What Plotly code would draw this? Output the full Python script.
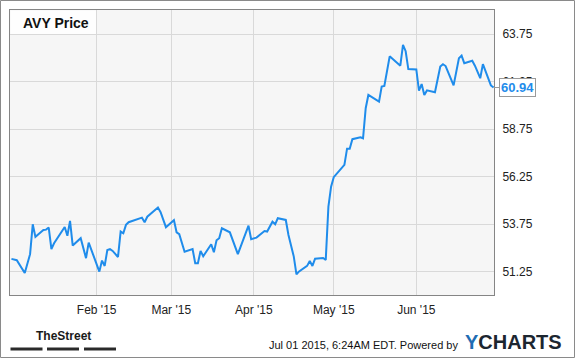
import plotly.graph_objects as go

# ---------------- data ----------------
dates = [
    "2014-12-31", "2015-01-02", "2015-01-05", "2015-01-07", "2015-01-08", "2015-01-09",
    "2015-01-11", "2015-01-12", "2015-01-13", "2015-01-14", "2015-01-15", "2015-01-16",
    "2015-01-20", "2015-01-21", "2015-01-22", "2015-01-23", "2015-01-26", "2015-01-28",
    "2015-01-29", "2015-02-02", "2015-02-03", "2015-02-04", "2015-02-05", "2015-02-06",
    "2015-02-07", "2015-02-09", "2015-02-10", "2015-02-11", "2015-02-12", "2015-02-13",
    "2015-02-18", "2015-02-19", "2015-02-20", "2015-02-24", "2015-02-25", "2015-02-27",
    "2015-03-02", "2015-03-03", "2015-03-04", "2015-03-06", "2015-03-09", "2015-03-10",
    "2015-03-11", "2015-03-12", "2015-03-13", "2015-03-16", "2015-03-17", "2015-03-18",
    "2015-03-19", "2015-03-20", "2015-03-23", "2015-03-25", "2015-03-26", "2015-03-30",
    "2015-03-31", "2015-04-02", "2015-04-05", "2015-04-06", "2015-04-08", "2015-04-09",
    "2015-04-10", "2015-04-13", "2015-04-14", "2015-04-16", "2015-04-17", "2015-04-18",
    "2015-04-21", "2015-04-22", "2015-04-23", "2015-04-24", "2015-04-27", "2015-04-28",
    "2015-04-29", "2015-04-30", "2015-05-01", "2015-05-05", "2015-05-06", "2015-05-07",
    "2015-05-08", "2015-05-11", "2015-05-12", "2015-05-13", "2015-05-14", "2015-05-18",
    "2015-05-19", "2015-05-20", "2015-05-22", "2015-05-26", "2015-05-27", "2015-05-28",
    "2015-05-29", "2015-06-01", "2015-06-02", "2015-06-03", "2015-06-04", "2015-06-05",
    "2015-06-08", "2015-06-10", "2015-06-11", "2015-06-12", "2015-06-15", "2015-06-17",
    "2015-06-18", "2015-06-19", "2015-06-22", "2015-06-23", "2015-06-25", "2015-06-26",
    "2015-06-29", "2015-06-30",
]
prices = [
    51.92, 51.85, 51.18, 52.17, 53.74, 53.08,
    53.32, 53.44, 53.46, 53.57, 52.44, 52.74,
    53.60, 53.14, 53.92, 52.62, 53.01, 51.96,
    52.78, 51.25, 51.83, 51.55, 52.39, 52.43,
    52.34, 52.02, 53.36, 53.27, 53.71, 53.85,
    54.09, 53.85, 54.14, 54.62, 54.38, 53.59,
    53.96, 53.32, 53.22, 52.30, 52.44, 51.69,
    51.69, 52.34, 52.06, 52.69, 52.27, 52.90,
    53.01, 53.53, 53.32, 52.48, 52.17, 53.67,
    52.96, 53.04, 53.39, 53.36, 53.88, 53.74,
    54.06, 53.97, 53.18, 52.04, 51.11, 51.26,
    51.55, 51.81, 51.55, 51.93, 51.97, 51.87,
    54.67, 55.72, 56.22, 56.87, 57.72, 57.72,
    58.22, 58.32, 58.27, 59.85, 60.55, 60.20,
    60.99, 61.02, 62.58, 62.09, 63.18, 62.85,
    61.91, 61.89, 60.77, 61.12, 60.55, 60.79,
    60.69, 62.05, 62.17, 62.07, 61.05, 62.48,
    62.62, 62.22, 62.35, 62.09, 61.43, 62.17,
    61.05, 60.94,
]
title_text = "AVY Price"
x_tick_dates = ["2015-02-01", "2015-03-01", "2015-04-01", "2015-05-01", "2015-06-01"]
x_tick_labels = ["Feb '15", "Mar '15", "Apr '15", "May '15", "Jun '15"]
y_tick_values = [51.25, 53.75, 56.25, 58.75, 61.25, 63.75]
footer_text = "Jul 01 2015, 6:24AM EDT. Powered by"

# ---------------- layout geometry ----------------
W, H = 575, 358
L, R, T, B = 10, 81, 10, 63
PW, PH = W - L - R, H - T - B


def px(xp):
    return (xp - L) / PW


def py(yp):
    return (H - B - yp) / PH


FONT = "Arial, 'Liberation Sans', sans-serif"
LINE_BLUE = "#1f8ceb"

fig = go.Figure()
fig.add_trace(go.Scatter(
    x=dates, y=prices, mode="lines",
    line=dict(color=LINE_BLUE, width=2),
    hoverinfo="skip", showlegend=False,
))

shapes = [
    # title box
    dict(type="rect", xref="paper", yref="paper", x0=px(10.5), x1=px(96), y0=py(34), y1=py(10.5),
         fillcolor="rgba(255,255,255,0.9)", line=dict(width=0), layer="below"),
    # outer frame
    dict(type="rect", xref="paper", yref="paper", x0=px(0.5), x1=px(574.5), y0=py(357.5), y1=py(0.5),
         fillcolor="rgba(0,0,0,0)", line=dict(color="#8a8a8a", width=1), layer="above"),
]
# TheStreet underline bars
for x0, x1 in [(10.5, 42.5), (47, 79), (84, 116)]:
    shapes.append(dict(type="rect", xref="paper", yref="paper", x0=px(x0), x1=px(x1),
                       y0=py(350.5), y1=py(347.5), fillcolor="#2a2a2a", line=dict(width=0)))

annotations = [
    dict(xref="paper", yref="paper", x=px(20.5), y=py(22.5), xanchor="left", yanchor="middle",
         text="<b>" + title_text + "</b>", showarrow=False,
         font=dict(family=FONT, size=14, color="#111111")),
    dict(x=dates[-1], y=prices[-1], xref="x", yref="y",
         text="<b>%.2f</b>" % prices[-1], showarrow=True, arrowhead=0, arrowwidth=1,
         arrowcolor="#9a9a9a", ax=24, ay=0,
         bgcolor="white", bordercolor="#9a9a9a", borderwidth=1, borderpad=1,
         font=dict(family=FONT, size=13, color=LINE_BLUE)),
    dict(xref="paper", yref="paper", x=px(63.5), y=py(335.5), xanchor="center", yanchor="middle",
         text="<b>TheStreet</b>", showarrow=False,
         font=dict(family="'Liberation Sans Narrow', 'Arial Narrow', Arial, sans-serif", size=12, color="#1a1a1a")),
    dict(xref="paper", yref="paper", x=px(459.5), y=py(345), xanchor="right", yanchor="middle",
         text=footer_text, showarrow=False,
         font=dict(family=FONT, size=11, color="#111111")),
    dict(xref="paper", yref="paper", x=px(463), y=py(342), xanchor="left", yanchor="middle",
         text="<b><span style='color:#1f6db3'>Y</span>CHARTS</b>", showarrow=False,
         font=dict(family=FONT, size=20, color="#1c2630")),
]

fig.update_layout(
    width=W, height=H,
    margin=dict(l=L, r=R, t=T, b=B, pad=0),
    paper_bgcolor="white", plot_bgcolor="#f6f6f6",
    font=dict(family=FONT, size=12, color="#222222"),
    showlegend=False,
    shapes=shapes, annotations=annotations,
    xaxis=dict(
        type="date", range=["2014-12-30 11:00", "2015-06-30 04:00"],
        tickvals=x_tick_dates, ticktext=x_tick_labels,
        showgrid=True, gridcolor="#d9d9d9", gridwidth=1,
        showline=True, linecolor="#858585", linewidth=1, mirror=True,
        ticks="", ticklabelstandoff=4, zeroline=False,
        tickfont=dict(family=FONT, size=12, color="#222222"),
    ),
    yaxis=dict(
        range=[50.02, 65.02], side="right",
        tickvals=y_tick_values, ticktext=["%.2f" % v for v in y_tick_values],
        showgrid=True, gridcolor="#d9d9d9", gridwidth=1,
        showline=True, linecolor="#858585", linewidth=1, mirror=True,
        ticks="", ticklabelstandoff=5, zeroline=False,
        tickfont=dict(family=FONT, size=12, color="#222222"),
    ),
)

fig.write_html("out.html")
